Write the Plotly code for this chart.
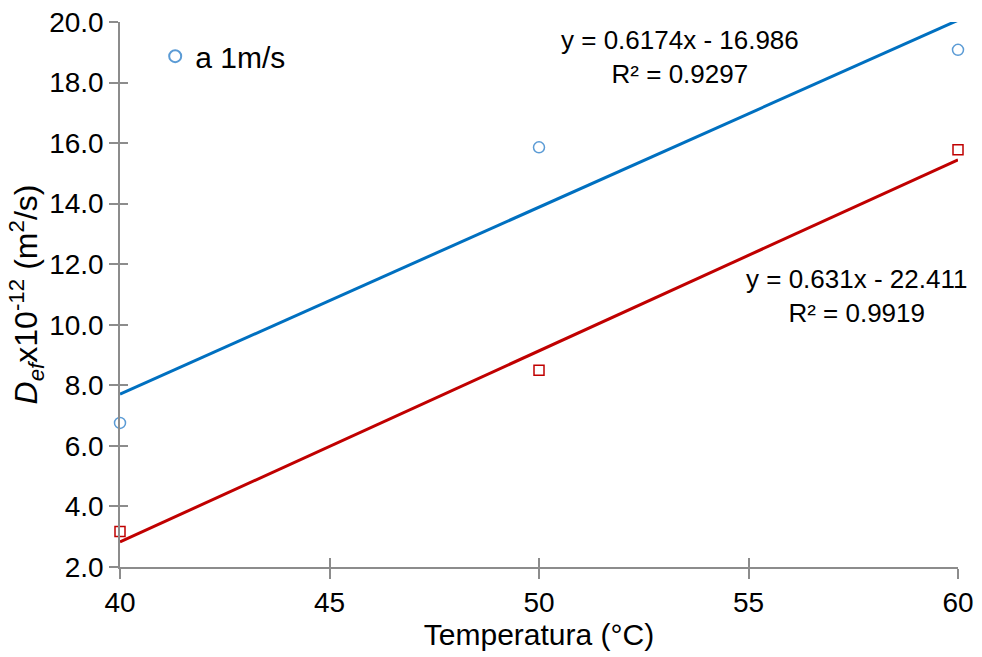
import numpy as np
import plotly.graph_objects as go

temps = [40, 50, 60]
blue_vals = [6.76, 15.86, 19.08]
red_vals = [3.17, 8.50, 15.78]
blue_fit = (0.6174, -16.986)
red_fit = (0.631, -22.411)
blue_eq = "y = 0.6174x - 16.986<br>R² = 0.9297"
red_eq = "y = 0.631x - 22.411<br>R² = 0.9919"
x_ticks = [40, 45, 50, 55, 60]
y_ticks = [2, 4, 6, 8, 10, 12, 14, 16, 18, 20]

FONT = "Liberation Sans, Arial, sans-serif"
AX = "#8c8c8c"

fig = go.Figure()
xl = np.array([temps[0], temps[-1]], dtype=float)
fig.add_trace(go.Scatter(x=xl, y=blue_fit[0] * xl + blue_fit[1], mode="lines",
                         line=dict(color="#0070C0", width=3), showlegend=False, hoverinfo="skip"))
fig.add_trace(go.Scatter(x=xl, y=red_fit[0] * xl + red_fit[1], mode="lines",
                         line=dict(color="#C00000", width=3), showlegend=False, hoverinfo="skip"))
fig.add_trace(go.Scatter(x=temps, y=blue_vals, mode="markers", name="a 1m/s",
                         marker=dict(symbol="circle-open", size=11, color="#5B9BD5", line=dict(width=1.5)),
                         cliponaxis=False))
fig.add_trace(go.Scatter(x=temps, y=red_vals, mode="markers", name="b", showlegend=False,
                         marker=dict(symbol="square-open", size=10, color="#C00000", line=dict(width=1.5)),
                         cliponaxis=False))
# invisible trace on overlay axes to draw the inner half of the crossing ticks
fig.add_trace(go.Scatter(x=temps, y=red_vals, xaxis="x2", yaxis="y2", mode="none",
                         showlegend=False, hoverinfo="skip"))

fig.add_annotation(x=53.37, y=18.85, text=blue_eq, showarrow=False,
                   font=dict(family=FONT, size=26, color="black"), align="center")
fig.add_annotation(x=57.57, y=10.95, text=red_eq, showarrow=False,
                   font=dict(family=FONT, size=26, color="black"), align="center")

fig.update_layout(
    width=982, height=657,
    margin=dict(l=120, r=24, t=22, b=90),
    plot_bgcolor="white", paper_bgcolor="white",
    font=dict(family=FONT, size=28, color="black"),
    xaxis=dict(range=[40, 60], tickvals=x_ticks, ticktext=[str(v) for v in x_ticks],
               showgrid=False, zeroline=False, showline=True, linecolor=AX, linewidth=1.5,
               ticks="outside", ticklen=10, tickcolor=AX, tickwidth=1.5,
               tickfont=dict(size=28), automargin=False,
               title=dict(text="Temperatura (°C)", font=dict(size=30), standoff=0)),
    yaxis=dict(range=[2, 20], tickvals=y_ticks, ticktext=[f"{v:.1f}" for v in y_ticks],
               showgrid=False, zeroline=False, showline=True, linecolor=AX, linewidth=1.5,
               ticks="outside", ticklen=9, tickcolor=AX, tickwidth=1.5,
               tickfont=dict(size=28), automargin=False,
               title=dict(text="<i>D</i><sub><i>ef</i></sub>x10<sup>-12</sup> (m<sup>2</sup>/s)",
                          font=dict(size=32), standoff=0)),
    xaxis2=dict(range=[40, 60], tickvals=x_ticks, overlaying="x", anchor="y2", side="bottom",
                showticklabels=False, ticks="inside", ticklen=9, tickcolor=AX, tickwidth=1.5,
                showgrid=False, zeroline=False, showline=False),
    yaxis2=dict(range=[2, 20], tickvals=y_ticks, overlaying="y", anchor="x2", side="left",
                showticklabels=False, ticks="inside", ticklen=8, tickcolor=AX, tickwidth=1.5,
                showgrid=False, zeroline=False, showline=False),
    legend=dict(x=0.042, y=0.985, xanchor="left", yanchor="top", bgcolor="rgba(0,0,0,0)",
                font=dict(size=30), itemsizing="constant"),
    showlegend=True,
)

fig.write_html("out.html", config={"displayModeBar": False},
               post_script="document.body.style.margin='0';")
